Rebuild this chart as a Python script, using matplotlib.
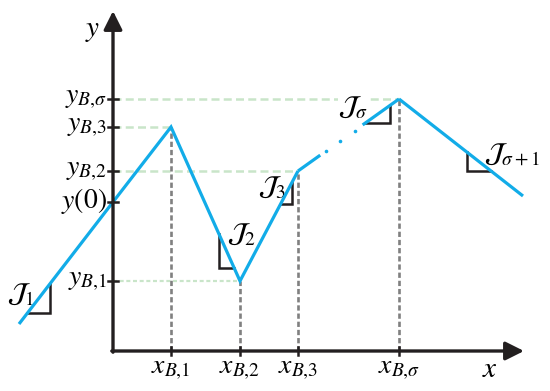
import numpy as np
import matplotlib
matplotlib.use("Agg")
import matplotlib.pyplot as plt

plt.rcParams['mathtext.fontset'] = 'stix'
plt.rcParams['font.family'] = ['STIXGeneral', 'DejaVu Serif']

# ---- data (coordinates in arbitrary units, origin at the axes corner) ----
line_x = [-94, 0, 58, 127, 185, 286, 410]
line_y = [27, 149, 224, 70, 180, 252, 155]
gap_segment = 4          # index of the segment drawn with a broken (dash-dot) style

x_break = [58, 127, 185, 286]
y_break = [224, 70, 180, 252]
x_tick_labels = [r'$x_{B{,}1}$', r'$x_{B{,}2}$', r'$x_{B{,}3}$', r'$x_{B{,}\sigma}$']

y_tick_vals = [252, 224, 180, 149, 70]
y_tick_labels = [r'$y_{B{,}\sigma}$', r'$y_{B{,}3}$', r'$y_{B{,}2}$', r'$y(0)$', r'$y_{B{,}1}$']
# horizontal guide lines: y value, end x
guide_y = [252, 224, 180, 70]
guide_xend = [286, 58, 185, 127]

# slope markers: corner of the right angle, ascending?, label, label position
tri_corner = [(-63, 38), (106, 83), (179, 147), (277, 228), (354, 180)]
tri_up = [True, False, True, True, False]
tri_labels = [r'$\mathcal{J}_1$', r'$\mathcal{J}_2$', r'$\mathcal{J}_3$',
              r'$\mathcal{J}_\sigma$', r'$\mathcal{J}_{\sigma+1}$']
tri_label_pos = [(-92, 56), (129, 116), (159, 163), (240, 243), (399, 197)]

BLUE = '#12ace8'
GREY = '#808080'
GREEN = '#c9e5c9'
BLACK = '#231f20'
FS = 20

fig = plt.figure(figsize=(5.5, 3.91), dpi=100)
ax = fig.add_axes([0, 0, 1, 1])
ax.set_xlim(-113, 437)
ax.set_ylim(-40, 351)
ax.axis('off')

# guide lines
for yv, xe in zip(guide_y, guide_xend):
    if yv == 70:
        ax.plot([0, xe], [yv, yv], color=GREEN, lw=1.6, dashes=(1.8, 1.2), zorder=1)
    else:
        ax.plot([0, xe], [yv, yv], color=GREEN, lw=1.8, dashes=(3.2, 1.7), zorder=1)
for xv, yv in zip(x_break, y_break):
    ax.plot([xv, xv], [0, yv], color=GREY, lw=1.9, dashes=(2.0, 1.1), zorder=1)

# main polyline
lx = np.array(line_x, float)
ly = np.array(line_y, float)
ax.plot(lx[:gap_segment + 1], ly[:gap_segment + 1], color=BLUE, lw=2.3,
        solid_joinstyle='miter', solid_capstyle='butt', zorder=3)
ax.plot(lx[gap_segment + 1:], ly[gap_segment + 1:], color=BLUE, lw=2.3,
        solid_joinstyle='miter', solid_capstyle='butt', zorder=3)
x0, y0 = lx[gap_segment], ly[gap_segment]
x1, y1 = lx[gap_segment + 1], ly[gap_segment + 1]
def along(t):
    return x0 + t * (x1 - x0), y0 + t * (y1 - y0)
a = along(0.22)
ax.plot([x0, a[0]], [y0, a[1]], color=BLUE, lw=2.3, solid_capstyle='butt', zorder=3)
b = along(0.64)
ax.plot([b[0], x1], [b[1], y1], color=BLUE, lw=2.3, solid_capstyle='butt', zorder=3)
for t in [0.28, 0.42, 0.56]:
    p = along(t)
    ax.plot(p[0], p[1], 'o', color=BLUE, ms=2.6, mec='none', zorder=3)

# slope markers
def y_on(x):
    return np.interp(x, lx, ly)
def x_on(y, xc):
    i = np.searchsorted(lx, xc) - 1
    i = max(0, min(i, len(lx) - 2))
    xa, ya, xb, yb = lx[i], ly[i], lx[i + 1], ly[i + 1]
    return xa + (y - ya) * (xb - xa) / (yb - ya)

for (cx, cy), up, lab, (tx, ty) in zip(tri_corner, tri_up, tri_labels, tri_label_pos):
    xs = x_on(cy, cx)
    ys = y_on(cx)
    if up:
        ax.plot([xs, cx, cx], [cy, cy, ys], color=BLACK, lw=1.8,
                solid_joinstyle='miter', zorder=2.8)
    else:
        ax.plot([cx, cx, xs], [ys, cy, cy], color=BLACK, lw=1.8,
                solid_joinstyle='miter', zorder=2.8)
    bbox = dict(facecolor='white', edgecolor='none', pad=0.3) if r'_\sigma$' in lab else None
    ax.text(tx, ty, lab, fontsize=FS, ha='center', va='center', color='black',
            zorder=2.5, bbox=bbox)

# axes with arrows
ax.annotate('', xy=(0, 340), xytext=(0, -1.2),
            arrowprops=dict(arrowstyle='-|>', lw=2.4, color=BLACK,
                            mutation_scale=28, shrinkA=0, shrinkB=0), zorder=5)
ax.annotate('', xy=(411, 0), xytext=(-1.2, 0),
            arrowprops=dict(arrowstyle='-|>', lw=2.4, color=BLACK,
                            mutation_scale=28, shrinkA=0, shrinkB=0), zorder=5)

# ticks and tick labels
for yv, lab in zip(y_tick_vals, y_tick_labels):
    ax.plot([-5, 5], [yv, yv], color=BLACK, lw=1.8, zorder=5)
    ax.text(-6, yv + 1, lab, fontsize=FS, ha='right', va='center')
for xv, lab in zip(x_break, x_tick_labels):
    ax.plot([xv, xv], [-4, 4], color=BLACK, lw=1.8, zorder=5)
    ax.text(xv, -6, lab, fontsize=FS, ha='center', va='top')

ax.text(-20, 320, r'$y$', fontsize=FS + 1, ha='center', va='center')
ax.text(377, -19, r'$x$', fontsize=FS + 1, ha='center', va='center')

fig.savefig('out.png', dpi=100)
